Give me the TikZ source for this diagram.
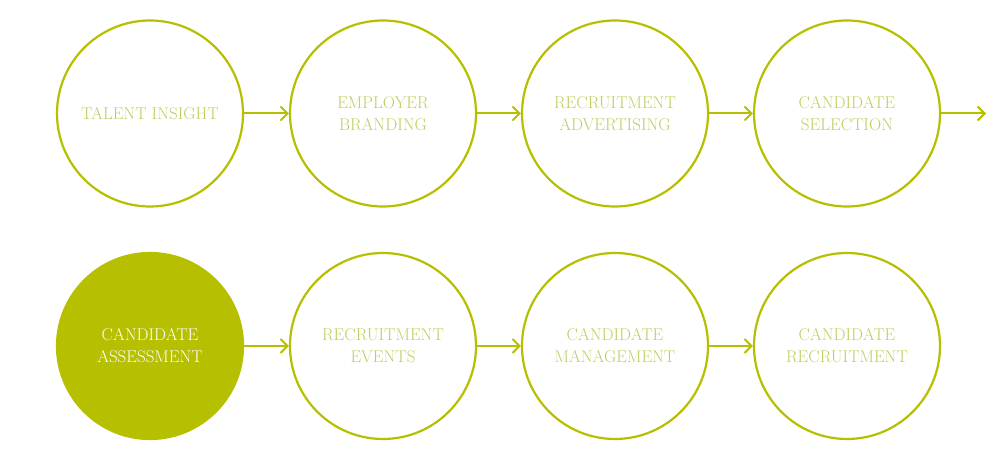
\documentclass[tikz,border=0pt]{standalone}
\usepackage{tikz}
\usetikzlibrary{arrows.meta}

\definecolor{olive}{HTML}{B6BF00}
\definecolor{paleolive}{HTML}{C2CB5E}

\tikzset{
  stage/.style={circle, draw=olive, line width=2.2pt, minimum size=186pt,
    inner sep=0pt, align=center, text=paleolive, font=\fontsize{17}{22}\selectfont},
  active/.style={stage, fill=olive, text=white},
  flow/.style={draw=olive, line width=2pt, -{Straight Barb[length=7pt,width=14pt,line width=2pt]}}
}

\begin{document}
\begin{tikzpicture}[x=1pt,y=1pt]

\useasboundingbox (0,0) rectangle (1000,458);

% Top row
\node[stage] (insight)   at (150,344.5) {TALENT INSIGHT};
\node[stage] (branding)  at (383,344.5) {EMPLOYER\\BRANDING};
\node[stage] (advert)    at (615,344.5) {RECRUITMENT\\ADVERTISING};
\node[stage] (selection) at (847,344.5) {CANDIDATE\\SELECTION};
\coordinate (next) at (986,344.5);

% Bottom row
\node[active] (assess)  at (150,112) {CANDIDATE\\ASSESSMENT};
\node[stage]  (events)  at (383,112) {RECRUITMENT\\EVENTS};
\node[stage]  (manage)  at (615,112) {CANDIDATE\\MANAGEMENT};
\node[stage]  (recruit) at (847,112) {CANDIDATE\\RECRUITMENT};

% Arrows
\foreach \a/\b in {insight/branding, branding/advert, advert/selection,
                   assess/events, events/manage, manage/recruit}
  \draw[flow] (\a.east) -- (\b.west);
\draw[flow] (selection.east) -- (next);

\end{tikzpicture}
\end{document}
